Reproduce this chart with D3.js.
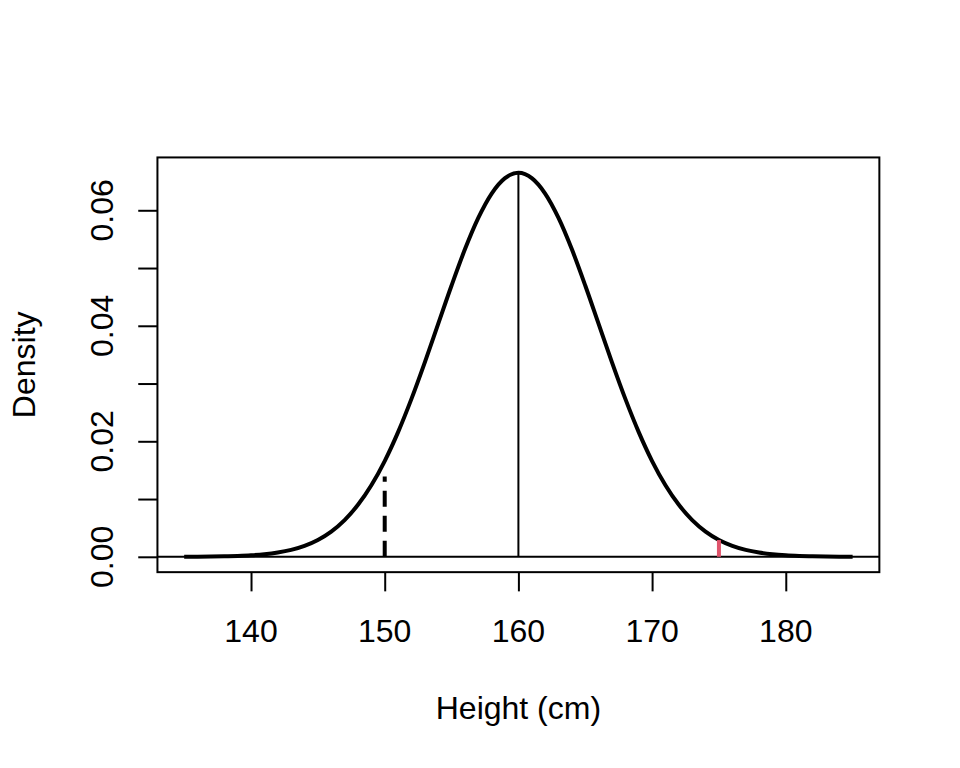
<!DOCTYPE html>
<html>
<head>
<meta charset="utf-8">
<script src="https://cdn.jsdelivr.net/npm/d3@7"></script>
<style>
  body { margin: 0; background: #fff; }
  text { font-family: "Liberation Sans", Arial, sans-serif; fill: #000; }
</style>
</head>
<body>
<script>
"use strict";

// Data

const heights = [135, 136, 137, 138, 139, 140, 141, 142, 143, 144, 145, 146, 147, 148, 149,
                 150, 151, 152, 153, 154, 155, 156, 157, 158, 159, 160, 161, 162, 163, 164,
                 165, 166, 167, 168, 169, 170, 171, 172, 173, 174, 175, 176, 177, 178, 179,
                 180, 181, 182, 183, 184, 185];
const densities = [0.00001, 0.00002, 0.00004, 0.00008, 0.00015, 0.00026, 0.00044, 0.00074,
                   0.00120, 0.00190, 0.00292, 0.00437, 0.00636, 0.00900, 0.01239, 0.01658,
                   0.02159, 0.02734, 0.03367, 0.04033, 0.04698, 0.05324, 0.05868, 0.06290,
                   0.06557, 0.06649, 0.06557, 0.06290, 0.05868, 0.05324, 0.04698, 0.04033,
                   0.03367, 0.02734, 0.02159, 0.01658, 0.01239, 0.00900, 0.00636, 0.00437,
                   0.00292, 0.00190, 0.00120, 0.00074, 0.00044, 0.00026, 0.00015, 0.00008,
                   0.00004, 0.00002, 0.00001];

const xTicks = [140, 150, 160, 170, 180];
const yTicks = [0, 0.01, 0.02, 0.03, 0.04, 0.05, 0.06];
const yLabels = [0, 0.02, 0.04, 0.06];

// vertical marks: mean, lower cut (dashed), upper cut (red)
const meanMark = { x: 160, y: 0.06649 };
const lowMark = { x: 150, y: 0.0139 };
const highMark = { x: 175, y: 0.0029 };

// Size parameters (R default margins, 192 dpi)

const width = 960;
const height = 768;
const lineH = 38.4;
const plotLeft = 4.1 * lineH;
const plotTop = 4.1 * lineH;
const plotRight = width - 2.1 * lineH;
const plotBottom = height - 5.1 * lineH;
const fontSize = 32;

const svg = d3
    .select('body')
    .append('svg')
    .attr('width', width)
    .attr('height', height);

// R style 4% padding
const xPad = (d3.max(heights) - d3.min(heights)) * 0.04;
const yPad = d3.max(densities) * 0.04;

const x = d3.scaleLinear()
    .domain([d3.min(heights) - xPad, d3.max(heights) + xPad])
    .range([plotLeft, plotRight]);

const y = d3.scaleLinear()
    .domain([-yPad, d3.max(densities) + yPad])
    .range([plotBottom, plotTop]);

/********
 * Axes *
 ********/

const xAxis = svg.append('g')
    .attr('transform', `translate(0,${plotBottom})`)
    .call(d3.axisBottom(x).tickValues(xTicks).tickSize(19.2).tickFormat(''));
xAxis.select('.domain').remove();
xAxis.selectAll('.tick line').attr('stroke', '#000').attr('stroke-width', 2);

svg.selectAll('.xlab')
    .data(xTicks)
    .enter()
    .append('text')
    .attr('x', d => x(d))
    .attr('y', 642)
    .attr('text-anchor', 'middle')
    .attr('font-size', fontSize)
    .text(d => d);

const yAxis = svg.append('g')
    .attr('transform', `translate(${plotLeft},0)`)
    .call(d3.axisLeft(y).tickValues(yTicks).tickSize(19.2).tickFormat(''));
yAxis.select('.domain').remove();
yAxis.selectAll('.tick line').attr('stroke', '#000').attr('stroke-width', 2);

svg.selectAll('.ylab')
    .data(yLabels)
    .enter()
    .append('text')
    .attr('transform', d => `translate(113,${y(d)}) rotate(-90)`)
    .attr('text-anchor', 'middle')
    .attr('font-size', fontSize)
    .text(d => d3.format('.2f')(d));

// Plot box
svg.append('rect')
    .attr('x', plotLeft)
    .attr('y', plotTop)
    .attr('width', plotRight - plotLeft)
    .attr('height', plotBottom - plotTop)
    .attr('fill', 'none')
    .attr('stroke', '#000')
    .attr('stroke-width', 2);

// Axis titles
svg.append('text')
    .attr('x', (plotLeft + plotRight) / 2)
    .attr('y', 719)
    .attr('text-anchor', 'middle')
    .attr('font-size', fontSize)
    .text('Height (cm)');

svg.append('text')
    .attr('transform', `translate(35,${(plotTop + plotBottom) / 2}) rotate(-90)`)
    .attr('text-anchor', 'middle')
    .attr('font-size', fontSize)
    .text('Density');

/*****************
 * Density curve *
 *****************/

// baseline at zero across the box
svg.append('line')
    .attr('x1', plotLeft)
    .attr('x2', plotRight)
    .attr('y1', y(0))
    .attr('y2', y(0))
    .attr('stroke', '#000')
    .attr('stroke-width', 2);

const line = d3.line()
    .x((d, i) => x(heights[i]))
    .y(d => y(d))
    .curve(d3.curveMonotoneX);

svg.append('path')
    .datum(densities)
    .attr('d', line)
    .attr('fill', 'none')
    .attr('stroke', '#000')
    .attr('stroke-width', 4)
    .attr('stroke-linejoin', 'round');

// Vertical marks
svg.append('line')
    .attr('x1', x(meanMark.x)).attr('x2', x(meanMark.x))
    .attr('y1', y(0)).attr('y2', y(meanMark.y))
    .attr('stroke', '#000')
    .attr('stroke-width', 2);

svg.append('line')
    .attr('x1', x(lowMark.x)).attr('x2', x(lowMark.x))
    .attr('y1', y(0)).attr('y2', y(lowMark.y))
    .attr('stroke', '#000')
    .attr('stroke-width', 4)
    .attr('stroke-dasharray', '16,9');

svg.append('line')
    .attr('x1', x(highMark.x)).attr('x2', x(highMark.x))
    .attr('y1', y(0)).attr('y2', y(highMark.y))
    .attr('stroke', '#DF536B')
    .attr('stroke-width', 4);
</script>
</body>
</html>
